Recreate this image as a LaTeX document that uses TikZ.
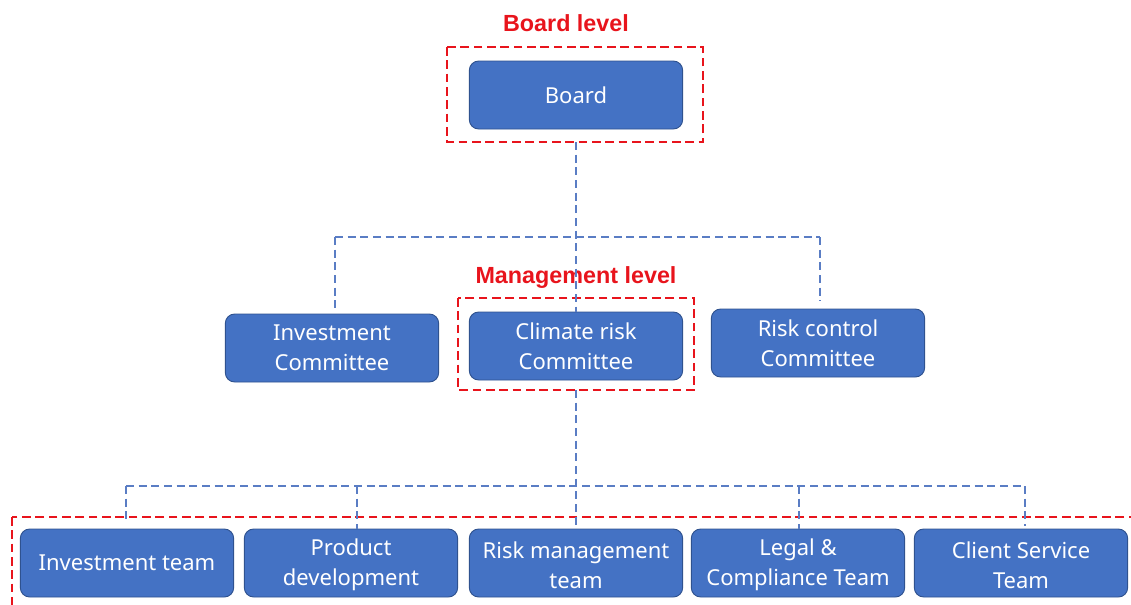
\documentclass[tikz,border=0pt]{standalone}
\usepackage{fontspec}
\setmainfont{Noto Sans}
\newfontfamily\levelfont{Liberation Sans}
\usetikzlibrary{positioning}

\definecolor{boxfill}{HTML}{4472C4}
\definecolor{boxedge}{HTML}{2F528F}
\definecolor{linkblue}{HTML}{5A7DC4}
\definecolor{levelred}{HTML}{E8141C}

\tikzset{
 unit/.style={draw=boxedge,fill=boxfill,rounded corners=7pt,text=white,
   minimum width=160pt,minimum height=51pt,align=center,inner sep=2pt,
   line width=0.7pt,font=\fontsize{16.5}{22.5}\selectfont},
 link/.style={draw=linkblue,dash pattern=on 6pt off 3.5pt,line width=1pt},
 levelbox/.style={draw=levelred,dash pattern=on 6.5pt off 3.5pt,line width=1.3pt},
 levellabel/.style={text=levelred,font=\levelfont\bfseries\fontsize{17.5}{20}\selectfont}
}

\begin{document}
\begin{tikzpicture}[x=0.75pt,y=-0.75pt]
 \useasboundingbox (0,0) rectangle (1131,604);
 \clip (0,0) rectangle (1131,604);
 % board level
 \node[levellabel] (boardlabel) at (566,23) {Board level};
 \draw[levelbox] (447,47) rectangle (703,142);
 \coordinate (boardframe) at (576,142);
 \node[unit] (board) at (576,95) {Board};
 % committees
 \node[unit] (invc) at (332,348) {Investment\\Committee};
 \node[unit] (climc) at (576,346) {Climate risk\\Committee};
 \node[unit] (riskc) at (818,343) {Risk control\\Committee};
 \node[levellabel] (mgmtlabel) at (576,278) {Management level};
 \draw[levelbox] (458,298) rectangle (694,390);
 \coordinate (mgmtframe) at (576,390);
 % teams
 \node[unit] (invt) at (127,563) {Investment team};
 \node[unit] (prodt) at (351,563) {\strut Product\\development};
 \node[unit] (riskt) at (576,563) {\strut Risk management\\team};
 \node[unit] (legalt) at (798,563) {\strut Legal \&\\Compliance Team};
 \node[unit] (clientt) at (1021,563) {\strut Client Service\\Team};
 \draw[levelbox] (12,517) rectangle (1145,620);
 % links
 \coordinate (upbus) at (576,237);
 \coordinate (lowbus) at (576,486);
 \coordinate (invcbus) at (335,237);
 \coordinate (riskcbus) at (820,237);
 \coordinate (invtbus) at (126,486);
 \coordinate (prodtbus) at (357,486);
 \coordinate (legaltbus) at (799,486);
 \coordinate (clienttbus) at (1025,486);
 \draw[link] (boardframe) -- (climc.north);
 \draw[link] (invcbus) -- (riskcbus);
 \draw[link] (invcbus) -- ([xshift=2.25pt,yshift=3.5pt]invc.north);
 \draw[link] (riskcbus) -- ([xshift=1.5pt,yshift=6pt]riskc.north);
 \draw[link] (mgmtframe) -- (riskt.north);
 \draw[link] (invtbus) -- (clienttbus);
 \draw[link] (invtbus) -- ([xshift=-0.75pt,yshift=7pt]invt.north);
 \draw[link] (prodtbus) -- ([xshift=4.5pt]prodt.north);
 \draw[link] (legaltbus) -- ([xshift=0.75pt]legalt.north);
 \draw[link] (clienttbus) -- ([xshift=3pt,yshift=2pt]clientt.north);
\end{tikzpicture}
\end{document}
